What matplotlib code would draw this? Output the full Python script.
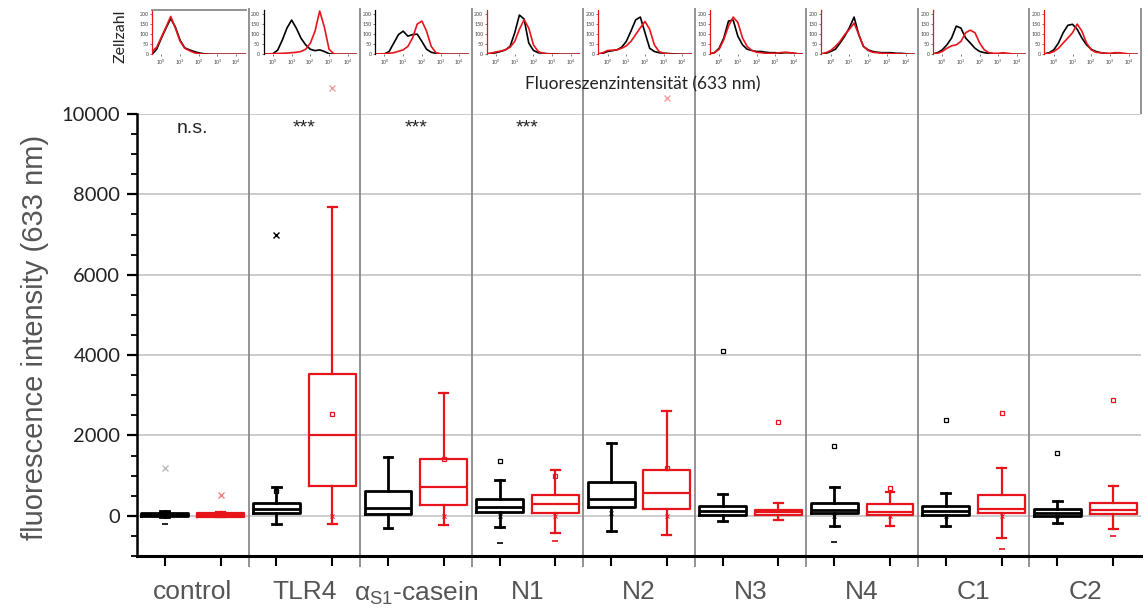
import numpy as np
import matplotlib
matplotlib.use("Agg")
import matplotlib.pyplot as plt

# categories
groups = ['control', 'TLR4', 'α$_{\\mathrm{S1}}$-casein', 'N1', 'N2', 'N3', 'N4', 'C1', 'C2']
signif = ['n.s.', '***', '***', '***', '', '', '', '', '']

# box statistics, order per group: black (unstained), red (stained)
q1 = [-10, -20, 60, 740, 50, 270, 100, 80, 210, 160, 20, 20, 60, 20, 20, 60, 5, 35]
med = [20, 20, 170, 2000, 200, 710, 225, 290, 430, 560, 125, 90, 140, 100, 110, 180, 80, 140]
q3 = [70, 70, 330, 3520, 620, 1420, 430, 530, 850, 1140, 240, 150, 330, 290, 240, 520, 180, 330]
wlo = [-30, -40, -210, -215, -300, -240, -280, -420, -375, -470, -130, -110, -250, -250, -260, -550, -180, -330]
whi = [130, 100, 720, 7680, 1470, 3050, 880, 1150, 1810, 2600, 540, 310, 710, 600, 560, 1180, 380, 740]
nan = np.nan
mean_vals = [50, 40, 610, 2535, nan, 1420, nan, 1000, nan, 1200, nan, nan, nan, 700, nan, nan, nan, nan]
max_vals = [nan, nan, nan, nan, nan, nan, 1375, nan, nan, nan, 4100, 2330, 1750, nan, 2390, 2560, 1575, 2890]
x_vals = [1190, 530, 7000, 10640, nan, nan, nan, nan, nan, 10390, nan, nan, nan, nan, nan, nan, nan, nan]
min_vals = [-215, nan, nan, nan, nan, nan, -675, -625, nan, nan, nan, nan, -650, nan, nan, -820, nan, -500]
low_x = [nan, nan, nan, 0, nan, 0, 0, 0, 60, 0, nan, nan, 0, 0, 0, 0, 0, nan]

# histogram insets: log10 intensity grid and cell counts
hist_logx = [-0.5, -0.25, 0, 0.25, 0.5, 0.75, 1.0, 1.25, 1.5, 1.75, 2.0,
             2.25, 2.5, 2.75, 3.0, 3.25, 3.5, 3.75, 4.0, 4.25, 4.5]
hist_black = [
    [0, 25, 80, 130, 178, 135, 70, 32, 22, 14, 7, 3, 1, 0, 0, 0, 0, 0, 0, 0, 0],
    [0, 0, 3, 20, 70, 130, 170, 130, 80, 47, 25, 18, 22, 14, 3, 0, 0, 0, 0, 0, 0],
    [0, 0, 2, 14, 56, 98, 115, 90, 98, 100, 64, 25, 10, 5, 2, 0, 0, 0, 0, 0, 0],
    [2, 4, 8, 14, 22, 39, 107, 195, 175, 56, 19, 8, 5, 3, 2, 1, 0, 0, 0, 0, 0],
    [0, 5, 14, 18, 22, 35, 64, 115, 171, 185, 107, 30, 14, 8, 5, 4, 2, 1, 0, 0, 0],
    [2, 8, 30, 81, 165, 170, 90, 47, 25, 19, 14, 14, 10, 8, 8, 5, 8, 8, 5, 2, 0],
    [0, 5, 14, 25, 56, 90, 132, 185, 98, 39, 22, 14, 10, 8, 8, 8, 5, 5, 3, 0, 0],
    [2, 8, 22, 47, 81, 140, 130, 81, 56, 30, 14, 8, 5, 2, 1, 0, 0, 0, 0, 0, 0],
    [2, 8, 22, 56, 107, 144, 149, 124, 81, 47, 25, 14, 8, 5, 2, 1, 0, 0, 0, 0, 0],
]
hist_red = [
    [15, 35, 85, 135, 188, 130, 65, 30, 18, 8, 3, 1, 0, 0, 0, 0, 0, 0, 0, 0, 0],
    [2, 2, 3, 4, 5, 6, 8, 10, 14, 25, 55, 115, 215, 135, 25, 3, 0, 0, 0, 0, 0],
    [2, 2, 3, 5, 8, 15, 22, 39, 81, 150, 165, 115, 39, 8, 2, 0, 0, 0, 0, 0, 0],
    [3, 6, 12, 16, 22, 35, 64, 124, 172, 130, 47, 14, 5, 2, 1, 0, 0, 0, 0, 0, 0],
    [2, 8, 19, 20, 22, 30, 42, 64, 98, 132, 163, 124, 47, 14, 5, 2, 0, 0, 0, 0, 0],
    [2, 8, 25, 73, 140, 185, 158, 81, 39, 19, 10, 8, 5, 5, 5, 8, 10, 8, 5, 2, 0],
    [3, 8, 19, 39, 64, 98, 124, 155, 98, 39, 19, 10, 8, 5, 5, 3, 2, 2, 1, 0, 0],
    [2, 5, 14, 30, 42, 47, 64, 107, 120, 107, 56, 22, 8, 5, 5, 8, 5, 2, 0, 0, 0],
    [2, 5, 14, 30, 56, 81, 107, 150, 115, 56, 22, 10, 8, 5, 5, 8, 8, 5, 2, 0, 0],
]

RED = '#e8141c'
W, H = 1147, 608
plt.rcParams['font.family'] = ['Lato', 'DejaVu Sans']
plt.rcParams['mathtext.fontset'] = 'custom'
plt.rcParams['mathtext.rm'] = 'Liberation Sans'

fig = plt.figure(figsize=(W / 100, H / 100), dpi=100)

def fx(px):
    return px / W

def fy(py):
    return 1 - py / H

ax_l, ax_r, ax_t, ax_b = 137, 1141, 114, 556
ax = fig.add_axes([fx(ax_l), fy(ax_b), fx(ax_r - ax_l), (ax_b - ax_t) / H])
ax.set_xlim(0, 18)
ax.set_ylim(-1000, 10000)

ngrp = len(groups)
pos_k = [2 * g + 0.5 for g in range(ngrp)]
pos_r = [2 * g + 1.5 for g in range(ngrp)]
positions = []
for g in range(ngrp):
    positions += [pos_k[g], pos_r[g]]

def stats(idx):
    return [dict(q1=q1[i], med=med[i], q3=q3[i], whislo=wlo[i], whishi=whi[i], fliers=[])
            for i in idx]

for idx, pos, col, lw in [(range(0, 18, 2), pos_k, 'black', 2.0),
                          (range(1, 18, 2), pos_r, RED, 1.6)]:
    lp = dict(color=col, linewidth=lw)
    ax.bxp(stats(idx), positions=pos, widths=0.84, showfliers=False,
           boxprops=lp, medianprops=lp, whiskerprops=lp, capprops=lp,
           capwidths=0.16, manage_ticks=False, zorder=3)

colors = ['black', RED] * ngrp
for i, p in enumerate(positions):
    c = colors[i]
    ax.plot(p, mean_vals[i], ls='none', marker='s', ms=3.2, mfc='none', mec=c, mew=0.9, zorder=4)
    ax.plot(p, max_vals[i], ls='none', marker='s', ms=3.2, mfc='none', mec=c, mew=0.9, zorder=4)
    ax.plot(p, min_vals[i], ls='none', marker='_', ms=5, mec=c, mew=1.2, zorder=4)
    ax.plot(p, low_x[i], ls='none', marker='x', ms=3, mec=c, mew=0.7, zorder=4)
pale = ['#bbbbbb', '#f08080', 'black', '#f5a0a0'] + ['#f5a0a0'] * 14
for i, p in enumerate(positions):
    ax.plot(p, x_vals[i], ls='none', marker='x', ms=5, mec=pale[i], mew=1.0,
            zorder=4, clip_on=False)

# group separators
ax.vlines([2 * g for g in range(1, ngrp)], -1275, 12640, color='#8a8a8a', lw=1.3,
          clip_on=False, zorder=1)
ax.vlines([18], 10000, 12640, color='#8a8a8a', lw=1.3, clip_on=False, zorder=1)

for g, s in enumerate(signif):
    if s:
        ax.text(2 * g + 1, 9650, s, ha='center', va='center', fontsize=14, color='#222222',
                family=['Liberation Sans', 'DejaVu Sans'])

ax.set_yticks(range(0, 10001, 2000))
ax.set_yticks(range(-1000, 10001, 500), minor=True)
ax.yaxis.grid(True, color='#cccccc', lw=1.4, zorder=0)
ax.set_axisbelow(True)
ax.tick_params(axis='y', which='major', length=7, width=1.6, labelsize=14.5,
               labelcolor='#222222', pad=5)
ax.tick_params(axis='y', which='minor', length=4, width=1.3)
ax.set_xticks(positions)
ax.set_xticklabels([])
ax.tick_params(axis='x', which='major', length=7, width=1.5)
ax.set_xticks([2 * g + 1 for g in range(ngrp)], minor=True)
ax.set_xticklabels(groups, minor=True, fontsize=19, color='#555555',
                   family=['Liberation Sans', 'DejaVu Sans'])
ax.tick_params(axis='x', which='minor', length=0, pad=17)
for sp in ['top', 'right']:
    ax.spines[sp].set_visible(False)
ax.spines['left'].set_bounds(-1000, 10000)
ax.spines['left'].set_linewidth(1.8)
ax.spines['bottom'].set_linewidth(2.2)
ax.set_ylabel('fluorescence intensity (633 nm)', fontsize=21, color='#555555',
              family=['Liberation Sans', 'DejaVu Sans'])
ax.yaxis.set_label_coords(-0.088, 0.495)

# histogram insets
gw = (ax_r - ax_l) / ngrp
spine_cols = [RED, 'black', 'black'] + [RED] * 6
for g in range(ngrp):
    left = ax_l + g * gw + 15
    right = ax_l + (g + 1) * gw - 3
    top, bot = 10, 54.3
    ia = fig.add_axes([fx(left), fy(bot), fx(right - left), (bot - top) / H])
    ia.set_facecolor('none')
    ia.plot(hist_logx, hist_black[g], color='black', lw=1.2)
    ia.plot(hist_logx, hist_red[g], color=RED, lw=1.2)
    ia.set_xlim(-0.5, 4.5)
    ia.set_ylim(0, 220)
    ia.set_yticks([0, 50, 100, 150, 200])
    ia.set_xticks([0, 1, 2, 3, 4])
    ia.set_xticklabels(['$10^{%d}$' % k for k in range(5)])
    ia.tick_params(labelsize=3.8, length=1.5, width=0.5, pad=1, colors='#444444')
    for sp in ['top', 'right', 'bottom']:
        ia.spines[sp].set_visible(False)
    ia.spines['left'].set_color(spine_cols[g])
    ia.spines['left'].set_linewidth(0.9)
    if g == 0:
        ia.spines['top'].set_visible(True)
        ia.spines['top'].set_color('#8a8a8a')
        ia.spines['top'].set_linewidth(1.3)

fig.text(fx(121), fy(36), 'Zellzahl', rotation=90, ha='center', va='center', fontsize=11.5,
         color='#222222')
fig.text(fx(643), fy(84), 'Fluoreszenzintensität (633 nm)', ha='center', va='center',
         fontsize=12.5, color='#222222')

fig.savefig('out.png', dpi=100)
